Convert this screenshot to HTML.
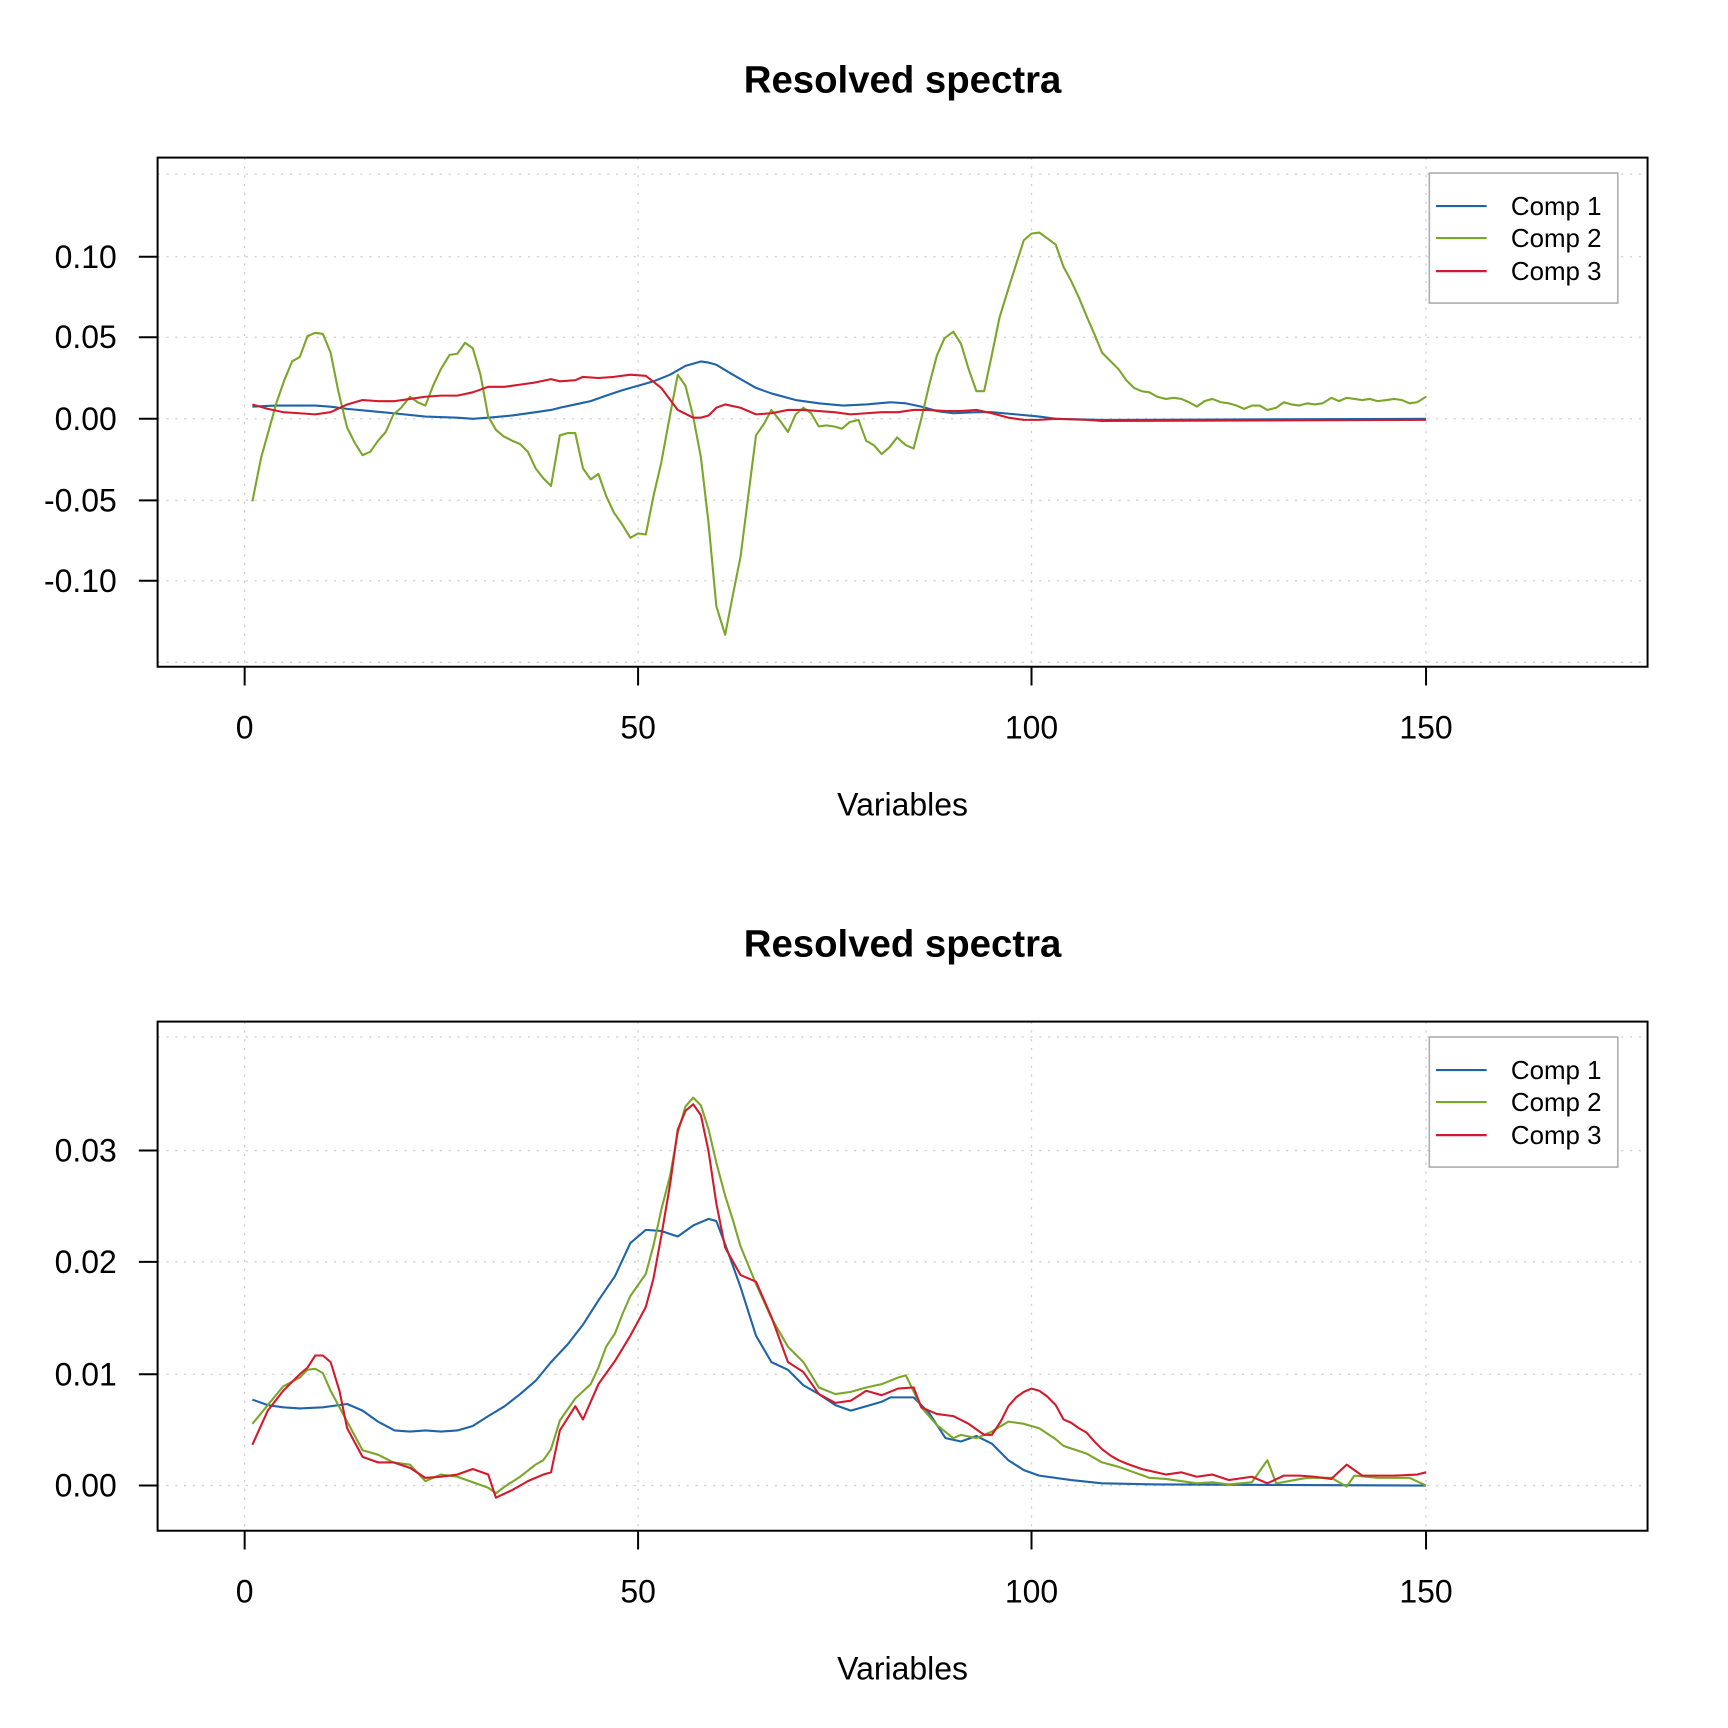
<!DOCTYPE html>
<html><head><meta charset="utf-8"><style>html,body{margin:0;padding:0;background:#fff}svg{display:block}</style></head><body>
<svg width="1728" height="1728" viewBox="0 0 1568 1568" xmlns="http://www.w3.org/2000/svg" font-family="Liberation Sans, Arial, sans-serif">
<rect width="1568" height="1568" fill="#fff"/>
<defs>
<g id="gridx" stroke="#cfcfcf" stroke-width="1.2" stroke-dasharray="2,6" fill="none">
<line x1="222" y1="143" x2="222" y2="605"/><line x1="579" y1="143" x2="579" y2="605"/><line x1="936" y1="143" x2="936" y2="605"/><line x1="1294" y1="143" x2="1294" y2="605"/>
</g>
<g id="xaxis" stroke="#000" stroke-width="1.8">
<line x1="222" y1="605" x2="222" y2="622"/><line x1="579" y1="605" x2="579" y2="622"/><line x1="936" y1="605" x2="936" y2="622"/><line x1="1294" y1="605" x2="1294" y2="622"/>
</g>
<g id="xlab" font-size="29" text-anchor="middle" fill="#000">
<text x="222" y="670">0</text><text x="579" y="670">50</text><text x="936" y="670">100</text><text x="1294" y="670">150</text>
<text x="819" y="740">Variables</text>
</g>
<g id="leg">
<rect x="1297" y="157" width="171" height="118" fill="#fff" stroke="#b0b0b0" stroke-width="1.5"/>
<line x1="1303" y1="187" x2="1349" y2="187" stroke="#1f63a8" stroke-width="2"/>
<line x1="1303" y1="216" x2="1349" y2="216" stroke="#7aa62a" stroke-width="2"/>
<line x1="1303" y1="246" x2="1349" y2="246" stroke="#d21a2c" stroke-width="2"/>
<g font-size="23.5" fill="#000"><text x="1371" y="195">Comp 1</text><text x="1371" y="224">Comp 2</text><text x="1371" y="254">Comp 3</text></g>
</g>
</defs>

<!-- Panel 1 -->
<text x="819" y="84" font-size="34.8" font-weight="bold" text-anchor="middle">Resolved spectra</text>
<use href="#gridx"/>
<g stroke="#cfcfcf" stroke-width="1.2" stroke-dasharray="2,6">
<line x1="143" y1="158" x2="1495" y2="158"/><line x1="143" y1="233" x2="1495" y2="233"/><line x1="143" y1="306" x2="1495" y2="306"/><line x1="143" y1="380" x2="1495" y2="380"/><line x1="143" y1="454" x2="1495" y2="454"/><line x1="143" y1="527" x2="1495" y2="527"/><line x1="143" y1="601" x2="1495" y2="601"/>
</g>
<g fill="none" stroke-width="1.9" stroke-linejoin="round">
<polyline stroke="#1f63a8" points="229,369 250,368 286,368 300,369 315,371 336,373 357,375 386,378 415,379 429,380 443,379 465,377 486,374 500,372 508,370 522,367 536,364 550,359 565,354 579,350 593,346 608,340 622,332 636,328 643,329 650,331 665,340 686,352 700,357 722,363 743,366 765,368 786,367 808,365 822,366 836,369 850,373 865,375 886,374 900,374 922,376 943,378 958,380 1000,381 1294,380"/>
<polyline stroke="#7aa62a" points="229,455 237,415 244,390 251,365 258,345 265,328 272,324 279,305 286,302 293,303 300,320 307,355 315,388 322,402 329,413 336,410 343,400 350,392 357,376 364,370 372,360 379,365 386,368 393,350 400,335 408,322 415,321 422,311 429,316 436,340 443,378 450,390 457,396 465,400 472,403 479,410 486,425 493,434 500,441 508,395 515,393 522,393 529,425 536,435 543,430 550,450 557,465 564,475 572,488 579,484 586,485 593,450 600,420 607,382 615,340 622,350 629,378 636,415 643,475 650,550 658,576 665,540 672,505 679,450 686,395 693,385 700,372 708,382 715,392 722,376 729,370 736,375 743,387 750,386 757,387 764,389 771,383 779,381 786,400 793,404 800,412 807,406 814,397 822,404 829,407 836,380 843,350 850,323 857,307 865,301 872,312 879,335 886,355 893,355 900,322 907,288 915,262 922,240 929,218 936,212 943,211 950,216 958,222 965,242 972,255 979,270 986,287 993,303 1000,320 1008,328 1015,335 1022,345 1029,352 1036,355 1043,356 1050,360 1058,362 1065,361 1072,362 1079,365 1086,369 1093,364 1100,362 1108,365 1115,366 1122,368 1129,371 1136,368 1143,368 1150,372 1158,370 1165,365 1172,367 1179,368 1186,366 1193,367 1200,366 1208,361 1215,364 1222,361 1229,362 1236,363 1243,362 1250,364 1258,363 1265,362 1272,363 1279,366 1286,365 1294,360"/>
<polyline stroke="#d21a2c" points="229,367 243,371 257,374 272,375 286,376 300,374 315,367 329,363 343,364 358,364 372,362 386,360 400,359 415,359 429,356 443,351 458,351 472,349 486,347 500,344 508,346 522,345 529,342 543,343 557,342 572,340 586,341 600,352 615,372 629,379 636,379 643,377 650,370 658,367 672,370 686,376 700,375 715,372 729,372 743,373 757,374 772,376 786,375 800,374 815,374 829,372 843,372 858,373 872,373 886,372 900,375 915,379 929,381 943,381 958,380 986,381 1000,382 1294,381"/>
</g>
<rect x="143" y="143" width="1352" height="462" fill="none" stroke="#000" stroke-width="1.8"/>
<use href="#xaxis"/>
<use href="#xlab"/>
<g stroke="#000" stroke-width="1.8">
<line x1="126" y1="233" x2="143" y2="233"/><line x1="126" y1="306" x2="143" y2="306"/><line x1="126" y1="380" x2="143" y2="380"/><line x1="126" y1="454" x2="143" y2="454"/><line x1="126" y1="527" x2="143" y2="527"/>
</g>
<g font-size="29" text-anchor="end" fill="#000">
<text x="106" y="243">0.10</text><text x="106" y="316">0.05</text><text x="106" y="390">0.00</text><text x="106" y="464">-0.05</text><text x="106" y="537">-0.10</text>
</g>
<use href="#leg"/>

<!-- Panel 2 -->
<g transform="translate(0,784)">
<text x="819" y="84" font-size="34.8" font-weight="bold" text-anchor="middle">Resolved spectra</text>
<use href="#gridx"/>
<g stroke="#cfcfcf" stroke-width="1.2" stroke-dasharray="2,6">
<line x1="143" y1="157" x2="1495" y2="157"/><line x1="143" y1="260" x2="1495" y2="260"/><line x1="143" y1="361" x2="1495" y2="361"/><line x1="143" y1="463" x2="1495" y2="463"/><line x1="143" y1="564" x2="1495" y2="564"/>
</g>
<use href="#xaxis"/>
<use href="#xlab"/>
<g stroke="#000" stroke-width="1.8">
<line x1="126" y1="260" x2="143" y2="260"/><line x1="126" y1="361" x2="143" y2="361"/><line x1="126" y1="463" x2="143" y2="463"/><line x1="126" y1="564" x2="143" y2="564"/>
</g>
<g font-size="29" text-anchor="end" fill="#000">
<text x="106" y="270">0.03</text><text x="106" y="371">0.02</text><text x="106" y="473">0.01</text><text x="106" y="574">0.00</text>
</g>
</g>
<g fill="none" stroke-width="1.9" stroke-linejoin="round">
<polyline stroke="#1f63a8" points="229,1270 243,1275 257,1277 272,1278 293,1277 315,1274 329,1280 343,1290 358,1298 372,1299 386,1298 400,1299 415,1298 429,1294 443,1285 458,1276 472,1265 486,1253 500,1236 515,1220 529,1202 543,1180 558,1158 572,1128 586,1116 600,1117 615,1122 629,1112 643,1106 650,1108 658,1129 672,1168 686,1212 700,1236 715,1243 729,1257 743,1265 758,1275 772,1280 786,1276 800,1272 808,1268 829,1268 843,1282 858,1305 872,1308 886,1303 900,1310 915,1325 929,1334 943,1339 972,1343 1000,1346 1050,1347 1294,1348"/>
<polyline stroke="#7aa62a" points="229,1292 243,1275 257,1258 272,1250 279,1243 286,1242 293,1246 300,1262 315,1290 329,1316 343,1320 357,1327 372,1329 386,1344 400,1338 415,1340 429,1345 443,1350 450,1355 458,1349 472,1340 486,1329 493,1325 500,1315 508,1289 522,1269 536,1256 543,1241 550,1222 558,1210 565,1192 572,1176 586,1156 593,1130 600,1098 608,1067 615,1028 622,1004 629,996 636,1003 643,1025 650,1055 658,1085 665,1107 672,1131 686,1165 700,1196 715,1222 729,1236 743,1259 758,1265 772,1263 786,1259 800,1256 815,1250 822,1248 836,1277 850,1293 865,1305 872,1302 886,1305 900,1299 915,1290 929,1292 943,1296 958,1306 965,1312 986,1319 1000,1327 1015,1331 1029,1336 1043,1341 1058,1342 1086,1346 1100,1345 1115,1347 1136,1345 1150,1325 1158,1346 1186,1341 1208,1341 1222,1349 1229,1339 1250,1341 1279,1341 1294,1348"/>
<polyline stroke="#d21a2c" points="229,1311 243,1280 257,1262 272,1247 279,1241 286,1230 293,1230 300,1236 308,1262 315,1296 329,1322 343,1327 357,1327 372,1332 386,1341 400,1340 415,1338 429,1333 443,1338 450,1359 465,1352 479,1344 493,1338 500,1336 508,1298 522,1276 529,1288 543,1256 558,1235 572,1212 586,1186 593,1160 600,1122 608,1075 615,1025 622,1008 629,1002 636,1012 643,1045 650,1092 658,1132 672,1157 686,1163 700,1195 715,1236 729,1245 743,1265 758,1273 772,1271 786,1262 800,1266 815,1260 829,1259 836,1277 850,1283 865,1285 879,1292 893,1302 900,1302 908,1290 915,1276 922,1268 929,1263 936,1260 943,1262 950,1267 958,1275 965,1288 972,1291 979,1296 986,1300 993,1308 1000,1315 1008,1321 1015,1325 1022,1328 1036,1333 1058,1338 1072,1336 1086,1340 1100,1338 1115,1343 1136,1340 1150,1346 1165,1339 1179,1339 1193,1340 1208,1342 1222,1329 1236,1339 1265,1339 1286,1338 1294,1336"/>
</g>
<g transform="translate(0,784)">
<rect x="143" y="143" width="1352" height="462" fill="none" stroke="#000" stroke-width="1.8"/>
<use href="#leg"/>
</g>
</svg>
</body></html>
